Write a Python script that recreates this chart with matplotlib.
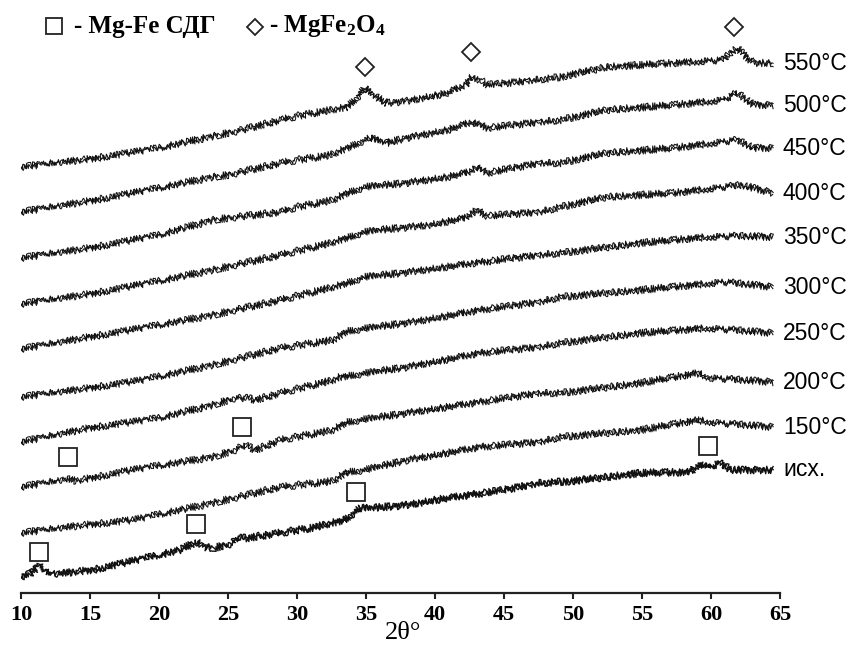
import numpy as np
import matplotlib.pyplot as plt
from matplotlib.lines import Line2D

plt.rcParams['mathtext.fontset'] = 'custom'
plt.rcParams['mathtext.rm'] = 'Liberation Serif:bold'
plt.rcParams['mathtext.default'] = 'rm'

# ----------------------------------------------------------------------
# Diffractogrammes Mg-Fe СДГ, echantillon initial et apres calcination
# (intensite en u.a., chaque courbe relative a son debut a 2theta = 10)
# ----------------------------------------------------------------------

labels = ['550°C', '500°C', '450°C', '400°C', '350°C',
          '300°C', '250°C', '200°C', '150°C', 'исх.']

# decalage vertical de chaque courbe (empilement)
decalage = [433, 388, 342, 296, 251, 203, 158, 113, 67, 23]

tt_550 = [10, 15, 20, 24, 26, 28.8, 30, 33.6, 34.3, 34.9, 35.5, 36.5, 38, 40.9, 42.2, 42.7,
          43.3, 43.8, 46, 49.1, 52.4, 57.3, 60.9, 61.4, 61.9, 62.4, 63.1, 64.5]
i_550 = [0, 8, 19, 31, 37, 47, 51, 60, 69, 79, 72, 64, 66, 74, 82, 90,
         87, 82, 85, 90, 100, 104, 107, 114, 119, 112, 104, 104]

tt_500 = [10, 15, 20, 23.9, 25, 28.8, 30, 32.4, 33.6, 34.9, 35.3, 36.5, 37.9, 40.9, 42.7,
          43.8, 47.6, 49.1, 52.4, 57.3, 60.9, 61.9, 63.1, 64.5]
i_500 = [0, 11, 24, 35, 37, 49, 52, 57, 64, 72, 74, 69, 74, 82, 90,
         84, 90, 92, 102, 107, 112, 119, 107, 107]

tt_450 = [10, 15, 20, 23.9, 25, 28.8, 30, 32.6, 33.6, 34.9, 37.9, 40.9, 42.5, 43.0, 43.5,
          43.8, 47.6, 49.1, 52.4, 57.3, 61.9, 63.1, 64.5]
i_450 = [0, 10, 23, 38, 40, 46, 51, 58, 65, 71, 75, 81, 86, 91, 87,
         85, 95, 95, 105, 110, 118, 110, 110]

tt_400 = [10, 15, 20, 23.9, 28.8, 32.4, 34.9, 36, 39.6, 42.2, 43.0, 43.8, 47.6, 49.1,
          52.4, 57.3, 62.2, 64.5]
i_400 = [0, 10, 23, 34, 49, 61, 72, 74, 79, 86, 94, 88, 92, 97,
         107, 111, 119, 111]

tt_350 = [10, 15, 20, 23.9, 28.8, 32.6, 33.6, 34.9, 37.6, 42.9, 47.6, 49.1, 54.9, 59.7,
          62, 64.5]
i_350 = [0, 12, 24, 34, 49, 62, 66, 72, 76, 86, 94, 96, 106, 112,
         113, 112]

tt_300 = [10, 15, 18.8, 23.9, 28.8, 32.6, 33.6, 38.4, 43.3, 47.6, 49.1, 54.9, 60.9, 64.5]
i_300 = [0, 9, 17, 32, 49, 57, 66, 75, 87, 95, 100, 107, 115, 110]

tt_250 = [10, 15, 20, 23.9, 25.5, 26.4, 27, 28.8, 32.6, 33.1, 38.0, 43.3, 47.6, 49.1,
          54.9, 59.7, 64.5]
i_250 = [0, 14, 24, 37, 44, 44, 42, 49, 62, 65, 75, 89, 95, 99,
         109, 114, 109]

tt_200 = [10, 13.4, 14, 18, 23.9, 25.5, 26.2, 27, 28.8, 32.6, 33.6, 38.0, 43.3, 47.6,
          49.1, 54.9, 59.0, 60, 64.5]
i_200 = [0, 8, 6, 17, 30, 37, 42, 37, 47, 57, 65, 74, 85, 94,
         94, 104, 114, 109, 105]

tt_150 = [10, 14, 18.1, 23.9, 28.8, 32.6, 33.6, 34.9, 38, 43.3, 47.6, 49.1, 54.9, 59.0,
          60.5, 64.5]
i_150 = [0, 7, 13, 30, 46, 52, 61, 63, 73, 86, 91, 96, 103, 113,
         110, 106]

tt_ish = [10, 10.8, 11.3, 11.8, 12.5, 15.2, 20, 21.5, 22.7, 23.3, 24, 25.4, 25.6, 26.4,
          31, 33.4, 34.2, 34.6, 35.4, 38, 40, 45, 47.6, 50, 54.9, 58.5, 59.2, 59.8,
          60.6, 61.5, 64.5]
i_ish = [0, 4, 12, 5, 3, 7, 22, 27, 35, 30, 29, 34, 39, 39,
         49, 57, 65, 69, 69, 72, 77, 87, 94, 96, 104, 105, 114, 109,
         114, 107, 107]

courbes_tt = [tt_550, tt_500, tt_450, tt_400, tt_350, tt_300, tt_250, tt_200, tt_150, tt_ish]
courbes_i = [i_550, i_500, i_450, i_400, i_350, i_300, i_250, i_200, i_150, i_ish]

# reflexes identifies (2theta, intensite empilee)
sdg_tt = [11.3, 22.7, 34.3, 59.8, 13.4, 26.0]
sdg_i = [48, 76, 108, 154, 143, 173]
spinelle_tt = [34.9, 42.6, 61.7]
spinelle_i = [533, 548, 573]

# ----------------------------------------------------------------------

fig = plt.figure(figsize=(8.53, 6.46), dpi=100)
ax = fig.add_axes([21 / 853, 1 - 593 / 646, 759 / 853, 593 / 646])

# bruit de comptage : deux passes "sketch" superposees pour un trait dense
passes = [(3.8, 1.0, 9.0), (2.4, 0.7, 5.0)]

for k, (tt, inten) in enumerate(zip(courbes_tt, courbes_i)):
    y = np.array(inten) + decalage[k]
    lw = 1.0 if labels[k] == 'исх.' else 0.75
    for sc, lg, rd in passes:
        ligne, = ax.plot(tt, y, color='#111111', lw=lw)
        ligne.set_sketch_params(scale=sc, length=lg, randomness=rd)
    ax.annotate(labels[k], xy=(65, y[-1]), xytext=(3, 0), textcoords='offset pixels',
                ha='left', va='center', fontsize=16.5, family='Liberation Sans',
                annotation_clip=False)

ax.plot(sdg_tt, sdg_i, ls='none', marker='s', ms=13, mfc='white', mec='#222222', mew=1.3)
ax.plot(spinelle_tt, spinelle_i, ls='none', marker='D', ms=9.5, mfc='white', mec='#222222', mew=1.3)

ax.set_xlim(10, 65)
ax.set_ylim(7, 600)
for cote in ['top', 'right', 'left']:
    ax.spines[cote].set_visible(False)
ax.spines['bottom'].set_linewidth(1.6)
ax.spines['bottom'].set_color('#222222')
ax.set_yticks([])
ax.set_xticks(np.arange(10, 66, 5))
ax.tick_params(axis='x', direction='out', length=4, width=1.5, pad=5, colors='#222222')
for t in ax.get_xticklabels():
    t.set_fontfamily('Liberation Serif')
    t.set_fontweight('bold')
    t.set_fontsize(16)
    t.set_color('black')
ax.set_xlabel('2θ°', family='Liberation Serif', fontsize=19, va='center')
ax.xaxis.set_label_coords((403 - 21) / 759, -(633 - 593) / 593)
ax.patch.set_visible(False)

# legende en haut
fig.add_artist(Line2D([54 / 853], [1 - 26 / 646], marker='s', ms=11.5, mfc='white',
                      mec='#222222', mew=1.3, transform=fig.transFigure))
fig.text(74 / 853, 1 - 26 / 646, '- Mg-Fe СДГ', family='Liberation Serif', weight='bold',
         fontsize=18, va='center', ha='left')
fig.add_artist(Line2D([255 / 853], [1 - 27 / 646], marker='D', ms=8.5, mfc='white',
                      mec='#222222', mew=1.3, transform=fig.transFigure))
fig.text(269 / 853, 1 - 26 / 646, '- MgFe$_2$O$_4$', family='Liberation Serif', weight='bold',
         fontsize=18, va='center', ha='left')

fig.savefig('out.png', dpi=100)
